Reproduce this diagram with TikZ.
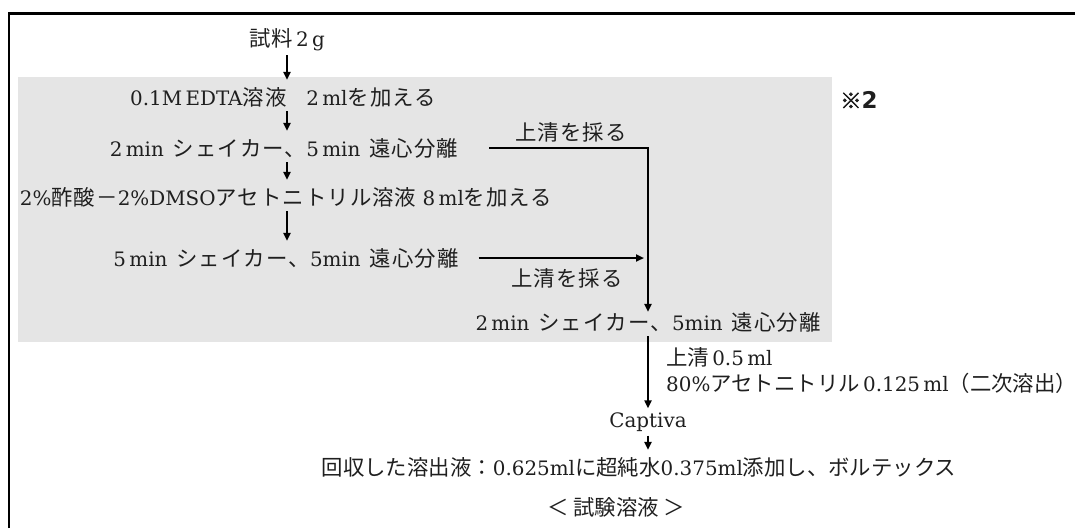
\documentclass[tikz,border=0pt]{standalone}
\usepackage{fontspec}
\setmainfont{DejaVu Serif}[Scale=0.93]
\newfontfamily\jpf{Noto Sans CJK JP}[LetterSpace=5]
\newfontfamily\jpn{Noto Sans CJK JP}
\newfontfamily\jpb{Noto Sans CJK JP}[FakeBold=2.5]
\newfontfamily\djv{DejaVu Sans}
\newcommand\J[1]{{\jpf #1}}
\newcommand\N[1]{{\jpn #1}}
\newcommand\gapsp{\hspace{0.45em}}
\usetikzlibrary{arrows.meta}
\begin{document}
\begin{tikzpicture}[x=1pt,y=-1pt,
  txt/.style={inner sep=2pt,font=\fontsize{21.4}{25}\selectfont,text=black!88},
  arr/.style={line width=2pt,-{Triangle[length=8pt,width=7pt]}},
  sarr/.style={line width=2pt,-{Triangle[length=8pt,width=7pt]},shorten <=2pt,shorten >=5pt}]
\useasboundingbox (0,0) rectangle (1075,528);
% frame
\draw[line width=2.5pt] (9,528) -- (9,13.5) -- (1075,13.5);
% grey box
\fill[gray!20] (18,77) rectangle (832,342);
% nodes
\node[txt] (n0) at (287,40) {\J{試料}\,2\,g};
\node[txt] (n1) at (283,97) {0.1M\,EDTA\J{溶液}\quad 2\,ml\J{を加える}};
\node[txt] (n2) at (284,148) {2\,min\gapsp\J{シェイカー、}5\,min\gapsp\J{遠心分離}};
\node[txt] (n3) at (286,197) {2\%\J{酢酸－}2\%DMSO\J{アセトニトリル溶液}\ 8\,ml\J{を加える}};
\node[txt] (n4) at (286,258) {5\,min\gapsp\J{シェイカー、}5min\gapsp\J{遠心分離}};
\node[txt] (n6) at (648,322) {2\,min\gapsp\J{シェイカー、}5min\gapsp\J{遠心分離}};
\node[txt] (l1) at (571,132) {\J{上清を採る}};
\node[txt] (l2) at (567,278) {\J{上清を採る}};
\node[txt,anchor=west] (t1) at (664,357) {\N{上清}\,0.5\,ml};
\node[txt,anchor=west] (t2) at (664,383) {80\%\N{アセトニトリル}\,0.125\,ml\N{（二次溶出）}};
\node[txt] (cap) at (648,422) {Captiva};
\node[txt] (n7) at (639,467) {\N{回収した溶出液：}0.625ml\N{に超純水}0.375ml\N{添加し、ボルテックス}};
\node[txt] (n8) at (616,507) {\N{＜\ 試験溶液\ ＞}};
\node[txt,anchor=west] (mk) at (838,100) {{\jpb ※}{\djv\bfseries\fontsize{23}{25}\selectfont 2}};
% short arrows
\draw[sarr] (n0.south) -- (n0.south |- n1.north);
\draw[sarr] (n0.south |- n1.south) -- (n0.south |- n2.north);
\draw[sarr] (n0.south |- n2.south) -- (n0.south |- n3.north);
\draw[sarr] (n0.south |- n3.south) -- (n0.south |- n4.north);
% side connectors
\draw[arr] ([xshift=29pt]n2.east) -| ([yshift=-2pt]n6.north);
\draw[arr] ([xshift=18pt]n4.east) -- ([xshift=-4pt]n4.east -| n6.north);
% lower arrows
\draw[arr,shorten <=2pt,shorten >=2pt] (n6.south) -- (cap.north);
\draw[sarr] (cap.south) -- (cap.south |- n7.north);
\end{tikzpicture}
\end{document}
